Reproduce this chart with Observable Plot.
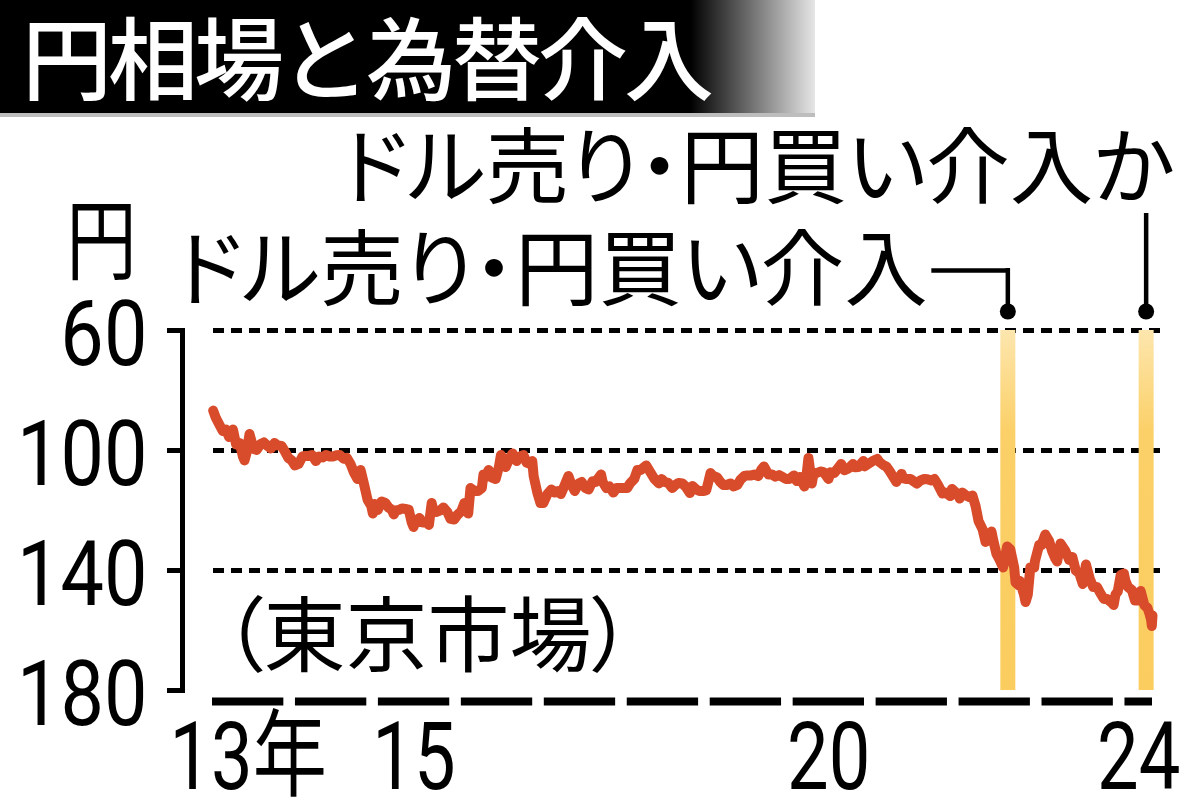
<!DOCTYPE html>
<html><head><meta charset="utf-8">
<script src="https://cdn.jsdelivr.net/npm/d3@7"></script>
<script src="https://cdn.jsdelivr.net/npm/@observablehq/plot@0.6"></script>
<style>
html,body{margin:0;padding:0;background:#fff;}
#title{position:relative;width:815px;height:113px;background:linear-gradient(to right,#000 0,#000 690px,#e6e6e6 815px);border-bottom:4px solid #bdbdbd;}
#title span{position:absolute;left:22px;top:9px;font-family:"Noto Sans CJK JP",sans-serif;font-size:90px;line-height:1;letter-spacing:-4px;color:#fff;white-space:nowrap;font-weight:500;}
svg text{font-feature-settings:"palt";}
</style></head>
<body>
<div id="title"><span>円相場と為替介入</span></div>
<div id="chart"></div>
<script>
// ---- data (Tokyo market, yen per dollar) ----
const rateDates = [
"2013-01-04","2013-01-15","2013-02-01","2013-02-15","2013-03-01","2013-03-15","2013-04-01","2013-04-15","2013-05-01","2013-05-15","2013-05-22","2013-06-01","2013-06-13","2013-07-01","2013-07-15","2013-08-01","2013-08-15","2013-09-01","2013-09-15","2013-10-01","2013-10-15","2013-11-01","2013-11-15","2013-12-01","2013-12-15","2013-12-30",
"2014-01-15","2014-02-01","2014-02-15","2014-03-01","2014-03-15","2014-04-01","2014-04-15","2014-05-01","2014-05-15","2014-06-01","2014-06-15","2014-07-01","2014-07-15","2014-08-01","2014-08-15","2014-09-01","2014-09-15","2014-10-01","2014-10-15","2014-10-31","2014-11-15","2014-12-01","2014-12-08","2014-12-15","2014-12-30",
"2015-01-15","2015-02-01","2015-02-15","2015-03-01","2015-03-10","2015-03-20","2015-04-01","2015-04-15","2015-05-01","2015-05-15","2015-05-28","2015-06-05","2015-06-15","2015-07-01","2015-07-15","2015-08-01","2015-08-12","2015-08-24","2015-09-01","2015-09-15","2015-10-01","2015-10-15","2015-11-01","2015-11-15","2015-12-01","2015-12-15",
"2016-01-01","2016-01-15","2016-02-01","2016-02-11","2016-03-01","2016-03-15","2016-04-01","2016-04-08","2016-04-15","2016-05-01","2016-05-15","2016-06-01","2016-06-15","2016-06-24","2016-07-01","2016-07-15","2016-08-01","2016-08-15","2016-09-01","2016-09-15","2016-10-01","2016-10-15","2016-11-01","2016-11-09","2016-11-15","2016-12-01","2016-12-15","2016-12-28",
"2017-01-15","2017-02-01","2017-02-15","2017-03-01","2017-03-15","2017-04-01","2017-04-17","2017-05-01","2017-05-15","2017-06-01","2017-06-15","2017-07-01","2017-07-15","2017-08-01","2017-08-15","2017-09-08","2017-09-15","2017-10-01","2017-10-15","2017-11-01","2017-11-15","2017-12-01","2017-12-15",
"2018-01-01","2018-01-15","2018-02-01","2018-02-15","2018-03-01","2018-03-26","2018-04-15","2018-05-01","2018-05-21","2018-06-01","2018-06-15","2018-07-01","2018-07-18","2018-08-01","2018-08-15","2018-09-01","2018-09-15","2018-10-04","2018-10-15","2018-11-01","2018-11-15","2018-12-01","2018-12-15","2018-12-25",
"2019-01-03","2019-01-15","2019-02-01","2019-02-15","2019-03-01","2019-03-15","2019-04-01","2019-04-15","2019-05-01","2019-05-15","2019-06-01","2019-06-15","2019-07-01","2019-07-15","2019-08-01","2019-08-15","2019-08-26","2019-09-15","2019-10-01","2019-10-15","2019-11-01","2019-11-15","2019-12-01","2019-12-15",
"2020-01-06","2020-01-17","2020-02-01","2020-02-20","2020-03-01","2020-03-09","2020-03-24","2020-04-01","2020-04-15","2020-05-01","2020-05-15","2020-06-05","2020-06-15","2020-07-01","2020-07-31","2020-08-15","2020-09-01","2020-09-21","2020-10-01","2020-10-15","2020-11-06","2020-11-11","2020-12-01","2020-12-15",
"2021-01-06","2021-01-15","2021-02-01","2021-02-15","2021-03-01","2021-03-31","2021-04-15","2021-04-23","2021-05-01","2021-05-15","2021-06-01","2021-06-30","2021-07-15","2021-08-01","2021-08-15","2021-09-01","2021-09-15","2021-10-01","2021-10-20","2021-11-01","2021-11-24","2021-12-01","2021-12-15","2021-12-31",
"2022-01-04","2022-01-15","2022-02-01","2022-02-15","2022-03-01","2022-03-15","2022-03-28","2022-04-15","2022-04-28","2022-05-12","2022-05-24","2022-06-01","2022-06-15","2022-06-29","2022-07-14","2022-08-01","2022-08-15","2022-09-01","2022-09-07","2022-09-22","2022-09-26","2022-10-14","2022-10-21","2022-10-31","2022-11-11","2022-11-28","2022-12-01","2022-12-20","2022-12-30",
"2023-01-16","2023-02-01","2023-02-15","2023-03-01","2023-03-09","2023-03-24","2023-04-15","2023-05-01","2023-05-15","2023-05-30","2023-06-15","2023-06-30","2023-07-14","2023-08-01","2023-08-15","2023-09-01","2023-09-15","2023-10-01","2023-10-15","2023-11-01","2023-11-13","2023-11-21","2023-12-01","2023-12-14","2023-12-28",
"2024-01-04","2024-01-15","2024-02-01","2024-02-15","2024-03-01","2024-03-11","2024-03-27","2024-04-10","2024-04-19","2024-04-26","2024-04-29","2024-05-02"
];
const rateYen = [
86.7,89.0,91.5,93.5,93.0,95.5,93.0,98.0,97.5,102.0,103.3,100.5,94.5,99.5,99.8,97.8,97.3,98.5,99.3,97.5,98.3,98.5,100.2,102.5,103.2,105.0,
104.5,102.0,101.8,101.8,101.5,103.5,102.0,102.3,101.5,102.0,102.0,101.6,101.5,102.7,102.4,104.5,107.2,109.5,106.5,111.5,116.5,118.5,121.0,117.8,119.8,
117.0,117.5,119.0,119.7,121.3,120.0,119.8,119.3,119.5,119.7,124.0,125.5,123.4,122.5,124.0,124.0,124.8,117.5,120.0,120.5,120.0,119.0,120.5,122.8,123.0,121.5,
120.3,117.5,121.0,112.5,113.5,113.5,112.5,108.0,109.0,106.5,109.0,109.5,105.5,101.5,102.5,105.5,102.5,101.0,103.5,102.0,101.5,104.0,104.5,103.5,108.5,114.0,117.5,117.5,
114.5,113.0,114.0,113.5,114.5,111.5,108.5,111.5,113.5,111.0,110.5,112.5,113.0,110.3,110.5,108.0,110.5,112.5,112.0,114.0,112.5,112.5,112.5,
112.5,110.8,109.5,106.5,106.5,105.0,107.5,109.5,111.0,109.5,110.5,110.8,112.5,111.5,110.8,111.0,112.0,114.2,111.8,113.0,113.5,113.5,113.3,110.3,
107.5,108.5,109.0,110.5,111.5,111.5,111.0,112.0,111.5,109.7,108.5,108.3,108.3,108.0,108.5,106.3,105.3,108.0,108.0,108.7,108.2,108.8,109.5,109.5,
108.3,110.2,108.8,112.0,108.0,102.5,111.0,107.5,107.5,107.0,107.2,109.5,107.3,107.5,104.5,106.6,106.0,104.5,105.6,105.5,103.5,105.3,104.3,103.6,
102.8,103.8,104.8,105.3,106.8,110.5,108.8,107.8,109.3,109.5,109.5,111.0,110.0,109.5,109.6,110.0,109.5,111.5,114.3,114.0,115.2,112.8,113.8,115.0,
116.0,114.0,115.0,115.5,115.0,118.5,123.5,126.3,130.5,128.7,127.0,130.0,134.5,136.5,139.0,132.0,133.0,139.0,144.0,145.0,143.5,148.0,150.5,148.0,139.0,139.0,137.0,131.5,131.5,
128.0,130.0,133.5,136.0,137.0,131.0,133.5,136.5,135.5,140.0,141.0,144.5,138.0,143.0,145.5,145.5,147.5,149.5,149.5,150.5,151.5,148.0,147.0,141.5,141.0,
143.5,145.5,146.5,150.0,150.0,146.8,151.5,152.5,154.5,156.5,158.5,155.0
];
const yTicks = [60, 100, 140, 180];
const gridTicks = [60, 100, 140];
const xTickYears = [2013, 2015, 2020, 2024];
const xTickLabels = ["13年", "15", "20", "24"];
const interventionDates = ["2022-08-04", "2024-04-04"];
const annotationTexts = ["ドル売り・円買い介入", "ドル売り・円買い介入か"];
const unitLabel = "円";
const sourceLabel = "（東京市場）";

// ---- chart ----
const parse = d3.utcParse("%Y-%m-%d");
const series = rateDates.map((d, i) => ({date: parse(d), yen: rateYen[i]}));
const bands = interventionDates.map(parse);
const xStart = new Date(Date.UTC(xTickYears[0], 0, 1));
const xEnd = series[series.length - 1].date;
const yTop = yTicks[0], yBottom = yTicks[yTicks.length - 1];

const W = 1200, H = 684;
const mL = 182, mR = 40, mT = 213, mB = 111, inL = 30, inR = 8;
const CJK = "'Noto Sans CJK JP', sans-serif";
const NUM = "'Roboto', sans-serif";
const red = "#d84c2b", yellow = "#fbcd5f";
const yearMs = 365.25 * 864e5;
const pxPerYear = (W - mL - mR - inL - inR) / ((xEnd - xStart) / yearMs);
const dashFrac = 0.86;
const dashMid = (y) => {
  const s = Date.UTC(y, 0, 1);
  const e = Math.min(s + dashFrac * yearMs, +xEnd);
  return new Date((s + e) / 2);
};
const Y_LABEL_SIZE = 91, X_LABEL_SIZE = 95, UNIT_SIZE = 88, ANN_SIZE = 83.5;

const plot = Plot.plot({
  width: W, height: H,
  marginLeft: mL, marginRight: mR, marginTop: mT, marginBottom: mB,
  x: {type: "utc", domain: [xStart, xEnd], insetLeft: inL, insetRight: inR, axis: null},
  y: {domain: [yTop, yBottom], reverse: true, axis: null, label: null},
  style: {background: "white", overflow: "visible", color: "black"},
  marks: [
    Plot.ruleY(gridTicks, {stroke: "black", strokeWidth: 5, strokeDasharray: "11,7", insetLeft: inL + 1}),
    Plot.ruleX(bands, {x: d => d, y1: yTop, y2: yBottom, stroke: yellow, strokeWidth: 15}),
    Plot.line(series, {x: "date", y: "yen", stroke: red, strokeWidth: 10, strokeLinejoin: "round", strokeLinecap: "round"}),
    Plot.frame({anchor: "left", strokeWidth: 5, strokeLinecap: "square"}),
    Plot.axisY(yTicks, {anchor: "left", tickSize: 15, strokeWidth: 5, fill: "none", label: null}),
    Plot.axisY(yTicks, {anchor: "left", tickSize: 15, tickPadding: 20, stroke: "none", fontSize: Y_LABEL_SIZE, fontFamily: NUM, dy: 5, label: null}),
    Plot.ruleY([yBottom], {x1: xStart, x2: xEnd, dy: 11, strokeWidth: 8,
      strokeDasharray: `${pxPerYear * dashFrac},${pxPerYear * (1 - dashFrac)}`}),
    Plot.text(xTickYears, {x: d => dashMid(d), y: yBottom, text: (d, i) => xTickLabels[i], dy: 68,
      fontSize: X_LABEL_SIZE, fontFamily: NUM + ", 'Noto Sans CJK JP'", lineAnchor: "middle", textAnchor: "middle"}),
    Plot.text([unitLabel], {frameAnchor: "top-left", text: d => d, textAnchor: "middle", lineAnchor: "middle", dx: -81, dy: -87, fontSize: UNIT_SIZE, fontFamily: CJK}),
    Plot.text([sourceLabel], {frameAnchor: "bottom-left", text: d => d, textAnchor: "start", lineAnchor: "middle", dx: 40, dy: -52, fontSize: 82, fontFamily: CJK}),
    // leader for first intervention
    Plot.ruleX([bands[0]], {x: d => d, y1: yTop, y2: yTop, insetTop: -62, insetBottom: 19, strokeWidth: 4.5}),
    Plot.ruleY([bands[0]], {x1: d => d, x2: d => d, y: yTop, dy: -60, insetLeft: -76, insetRight: -2, strokeWidth: 4.5}),
    // leader for second intervention
    Plot.ruleX([bands[1]], {x: d => d, y1: yTop, y2: yTop, insetTop: -117, insetBottom: 19, strokeWidth: 4.5}),
    Plot.dot(bands, {x: d => d, y: yTop, dy: -19, r: 8, fill: "black", stroke: "none"}),
    Plot.text([annotationTexts[0]], {x: () => bands[0], y: yTop, text: d => d, textAnchor: "end", lineAnchor: "middle", dx: -80, dy: -58, fontSize: ANN_SIZE, fontFamily: CJK}),
    Plot.text([annotationTexts[1]], {x: () => bands[1], y: yTop, text: d => d, textAnchor: "end", lineAnchor: "middle", dx: 28, dy: -160, fontSize: ANN_SIZE, fontFamily: CJK})
  ]
});
document.getElementById("chart").appendChild(plot);

// condensed lettering like the newspaper typeface (horizontal squeeze only)
const svg = d3.select(plot);
const isNum = (v) => v != null && v !== "" && isFinite(+v);
function condense(selection, sx) {
  selection.each(function () {
    const t = d3.select(this);
    const xa = t.attr("x"), ya = t.attr("y");
    const x = isNum(xa) ? +xa : 0, y = isNum(ya) ? +ya : 0;
    if (isNum(xa)) t.attr("x", null);
    if (isNum(ya)) t.attr("y", null);
    const tr = t.attr("transform") || "";
    t.attr("transform", `${tr} translate(${x},${y}) scale(${sx},1)`);
  });
}
condense(svg.selectAll(`g[font-size="${Y_LABEL_SIZE}"] text`), 0.85);
condense(svg.selectAll(`g[font-size="${X_LABEL_SIZE}"] text`), 0.78);
condense(svg.selectAll(`g[font-size="${UNIT_SIZE}"] text`), 0.8);

// soft top fade on the intervention bands
const defs = svg.insert("defs", ":first-child");
const grad = defs.append("linearGradient").attr("id", "bandGrad")
  .attr("gradientUnits", "userSpaceOnUse").attr("x1", 0).attr("x2", 0).attr("y1", mT).attr("y2", H - mB);
grad.append("stop").attr("offset", "0%").attr("stop-color", "#fde6ae");
grad.append("stop").attr("offset", "28%").attr("stop-color", "#fbd068");
grad.append("stop").attr("offset", "100%").attr("stop-color", yellow);
svg.selectAll('g[stroke-width="15"]').attr("stroke", "url(#bandGrad)");
</script>
</body></html>
